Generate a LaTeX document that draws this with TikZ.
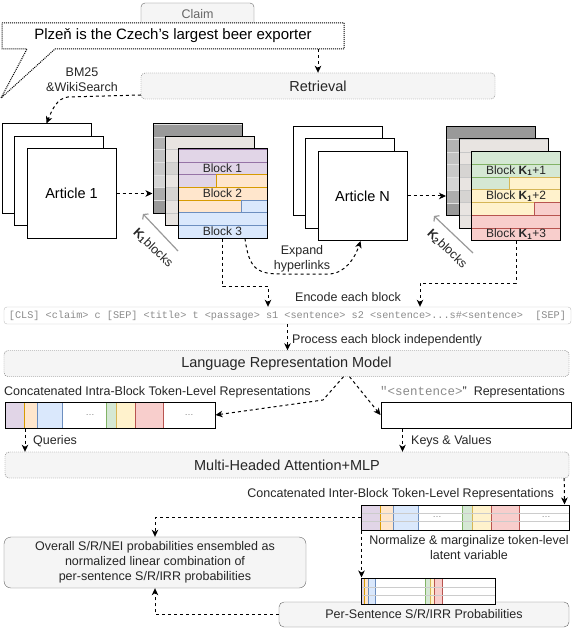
\documentclass[tikz,border=0pt]{standalone}
\usepackage{fontspec}
\setmainfont{Liberation Sans}
\setmonofont{Liberation Mono}
\usetikzlibrary{arrows.meta,positioning,calc}

\definecolor{purF}{HTML}{E1D5E7}\definecolor{purD}{HTML}{9673A6}
\definecolor{oraF}{HTML}{FFE6CC}\definecolor{oraD}{HTML}{D79B00}
\definecolor{bluF}{HTML}{DAE8FC}\definecolor{bluD}{HTML}{6C8EBF}
\definecolor{greF}{HTML}{D5E8D4}\definecolor{greD}{HTML}{82B366}
\definecolor{yelF}{HTML}{FFF2CC}\definecolor{yelD}{HTML}{D6B656}
\definecolor{redF}{HTML}{F8CECC}\definecolor{redD}{HTML}{B85450}
\definecolor{boxF}{HTML}{F5F5F5}\definecolor{boxD}{HTML}{666666}
\definecolor{midF}{HTML}{E8E4E1}\definecolor{midG}{HTML}{D6D4D2}
\definecolor{txt}{HTML}{262626}
\definecolor{tokgray}{HTML}{8A8A8A}

\newcommand{\rh}{12.714}

% coloured rows of a front block square (top left corner #1,#2)
\newcommand{\blockrows}[5]{%
  \draw[fill=#3F,draw=#3D] (#1,#2) rectangle (#1+89,#2+\rh);
  \draw[fill=#3F,draw=#3D] (#1,#2+\rh) rectangle (#1+89,#2+2*\rh);
  \draw[fill=#3F,draw=#3D] (#1,#2+2*\rh) rectangle (#1+38,#2+3*\rh);
  \draw[fill=#4F,draw=#4D] (#1+38,#2+2*\rh) rectangle (#1+89,#2+3*\rh);
  \draw[fill=#4F,draw=#4D] (#1,#2+3*\rh) rectangle (#1+89,#2+4*\rh);
  \draw[fill=#4F,draw=#4D] (#1,#2+4*\rh) rectangle (#1+63,#2+5*\rh);
  \draw[fill=#5F,draw=#5D] (#1+63,#2+4*\rh) rectangle (#1+89,#2+5*\rh);
  \draw[fill=#5F,draw=#5D] (#1,#2+5*\rh) rectangle (#1+89,#2+6*\rh);
  \draw[fill=#5F,draw=#5D] (#1,#2+6*\rh) rectangle (#1+89,#2+7*\rh);}
% grey rows of the squares behind
\newcommand{\backrows}[2]{%
  \foreach \i/\gv in {0/40,1/30,2/24,3/21,4/17,5/32,6/40}
    \draw[fill=black!\gv,draw=black!12] (#1,#2+\i*\rh) rectangle (#1+89,#2+\i*\rh+\rh);}
\newcommand{\midrows}[2]{%
  \foreach \i/\gv in {0/midF,1/midF,2/midG,3/midF,4/midG,5/midF,6/midF}
    \draw[fill=\gv,draw=black!22] (#1,#2+\i*\rh) rectangle (#1+89,#2+\i*\rh+\rh);}
% coloured token segments of a representation bar
\newcommand{\segbar}[3]{%
  \foreach \a/\b/\cc in {0/19.5/pur,19.5/32/ora,32/57.5/blu,101.5/111.5/gre,111.5/130.5/yel,130.5/158.5/red}
    \draw[fill=\cc F,draw=\cc D] (#1+\a,#2) rectangle (#1+\b,#3);}

\begin{document}
\begin{tikzpicture}[x=1pt,y=-1pt,
    sq/.style={draw,line width=1pt,minimum size=89pt,inner sep=0pt,font=\fontsize{14.5}{17}\selectfont},
    panel/.style={draw=boxD,fill=boxF,dash pattern=on 1pt off 1pt,rounded corners=4pt,minimum height=26pt,inner sep=0pt,text=txt,font=\fontsize{14.5}{17}\selectfont},
    note/.style={draw=boxD,fill=boxF,rounded corners=7pt,inner sep=0pt,text=txt,font=\fontsize{12.5}{15}\selectfont,align=center},
    lbl/.style={inner sep=0pt,font=\fontsize{12.5}{15}\selectfont,text=txt},
    blk/.style={inner sep=0pt,font=\fontsize{12}{14}\selectfont,text=txt},
    rep/.style={draw,line width=1pt,inner sep=0pt,minimum height=26pt},
    dots/.style={inner sep=0pt,text=black!50,font=\small},
    flow/.style={line width=1pt,dash pattern=on 3pt off 3pt,-{Stealth[length=7pt,width=6.5pt,inset=2pt]}},
    kline/.style={draw=black!40,line width=1.2pt,-{Straight Barb[length=3pt,width=8pt]}}]
    \useasboundingbox (0,0) rectangle (572,628);

    % claim and retrieval
    \node[draw=boxD,fill=boxF,rounded corners=4pt,minimum width=113pt,minimum height=27pt,inner sep=0pt] (ClaimTab) at (197.5,16.5) {};
    \node[lbl,text=boxD] (clm) at (197.5,14) {Claim};
    \draw[fill=white,line width=1pt,dash pattern=on 1pt off 1pt] (2,23) -- (344,23) -- (344,49) -- (55,49) -- (1,98) -- (27,49) -- (2,49) -- cycle;
    \node[font=\fontsize{15}{18}\selectfont,minimum width=342pt,minimum height=26pt,inner sep=0pt] (Claim) at (173,36) {Plzeň is the Czech's largest beer exporter};
    \node[panel,minimum width=354pt] (Ret) at (318,86) {Retrieval};
    \draw[flow] (Claim.south -| Ret.north) -- (Ret.north);
    \node[lbl,align=center] (bm) at (82,80) {BM25\\\&WikiSearch};

    % articles
    \node[sq,fill=white] (A1b) at (46.5,168.5) {};
    \node[sq,fill=white] (A1m) at (59,181) {};
    \node[sq,fill=white] (A1f) at (71.5,193.5) {Article 1};
    \node[sq,fill=white] (ANb) at (337.5,171) {};
    \node[sq,fill=white] (ANm) at (350,183.5) {};
    \node[sq,fill=white] (ANf) at (362.5,196) {Article N};
    \draw[flow] ([yshift=-9pt]Ret.west) -- (68,97) .. controls (57,98) and (52,110) .. (A1b.north);

    % blocks of article 1
    \backrows{153}{124}
    \node[sq] (B1b) at (197.5,168.5) {};
    \midrows{165.5}{136.5}
    \node[sq] (B1m) at (210,181) {};
    \blockrows{178}{149}{pur}{ora}{blu}
    \node[sq] (B1f) at (222.5,193.5) {};
    \node[blk] (b1) at (222.5,168.1) {Block 1};
    \node[blk] (b2) at (222.5,193.5) {Block 2};
    \node[blk] (b3) at (222.5,231.6) {Block 3};

    % blocks of article N
    \backrows{446.5}{126.5}
    \node[sq] (B2b) at (491,171) {};
    \midrows{459}{139}
    \node[sq] (B2m) at (503.5,183.5) {};
    \blockrows{471.5}{151.5}{gre}{yel}{red}
    \node[sq] (B2f) at (516,196) {};
    \node[blk] (bk1) at (516,170.6) {Block \textbf{K\textsubscript{1}}+1};
    \node[blk] (bk2) at (516,196) {Block \textbf{K\textsubscript{1}}+2};
    \node[blk] (bk3) at (516,234.1) {Block \textbf{K\textsubscript{1}}+3};

    \draw[flow] (A1f.east) -- (A1f.east -| B1b.west);
    \draw[flow] (ANf.east) -- (ANf.east -| B2b.west);
    \coordinate (k1a) at (178,251); \coordinate (k1b) at (143,214);
    \draw[kline] (k1a) -- (k1b);
    \node[lbl,rotate=-44] (k1) at (153,248) {\textbf{K\textsubscript{1}}blocks};
    \coordinate (k2a) at (473,253); \coordinate (k2b) at (434,216);
    \draw[kline] (k2a) -- (k2b);
    \node[lbl,rotate=-44] (k2) at (447,249) {\textbf{K\textsubscript{2}}blocks};

    \draw[flow] ([xshift=22.5pt]B1f.south) .. controls (249,270) and (258,274) .. (282,274) -- (328,274) .. controls (345,274) and (355,258) .. ([xshift=-2pt]ANf.south);
    \node[lbl,align=center] (exp) at (302,259) {Expand\\hyperlinks};

    % encoding
    \node[lbl] (enc) at (348,297) {Encode each block};
    \node[draw=black!25,rounded corners=3pt,minimum width=567pt,minimum height=17pt,inner sep=0pt,text=tokgray,font=\ttfamily\fontsize{10.2}{12}\selectfont] (Tok) at (287.5,315.5) {[CLS] <claim> c [SEP] <title> t <passage> s1 <sentence> s2 <sentence>...s\#<sentence>\ \ [SEP]};
    \draw[flow] (B1f.south) -- ++(0,48) -| ([xshift=-19.5pt]Tok.north);
    \draw[flow] (B2f.south) -- ++(0,42) -| ([xshift=132.5pt]Tok.north);

    \node[panel,minimum width=565pt] (LRM) at (286.5,363.5) {Language Representation Model};
    \draw[flow] (Tok.south) -- (Tok.south |- LRM.north);
    \node[lbl,anchor=west] (proc) at (292,340) {Process each block independently};

    % representations
    \segbar{5}{402}{428}
    \node[rep,minimum width=210pt] (Intra) at (110,415) {};
    \node[dots] (d1) at (90,415) {\dots};
    \node[dots] (d2) at (189,415) {\dots};
    \node[lbl,anchor=west] (intraT) at (4,392) {Concatenated Intra-Block Token-Level Representations};
    \node[rep,fill=white,minimum width=190pt] (Sent) at (476,415) {};
    \node[lbl,anchor=east] (sentT) at (565,392) {{\ttfamily\color{tokgray}"<sentence>}"\ \ Representations};
    \draw[flow] ([xshift=57pt]LRM.south) -- (323,400) -- (Intra.east);
    \draw[flow] ([xshift=63pt]LRM.south) -- (Sent.west);

    \node[panel,minimum width=564pt] (MHA) at (287,465) {Multi-Headed Attention+MLP};
    \draw[flow] ([xshift=20.5pt]Intra.south west) -- ([xshift=20.5pt]Intra.south west |- MHA.north);
    \node[lbl,anchor=west] (qu) at (33,441) {Queries};
    \draw[flow] ([xshift=22pt]Sent.south west) -- ([xshift=22pt]Sent.south west |- MHA.north);
    \node[lbl,anchor=west] (kv) at (411,441) {Keys \& Values};

    \segbar{361}{505}{530}
    \draw[black!20] (361,513.5) -- (569,513.5) (361,521.5) -- (569,521.5);
    \node[rep,minimum width=208pt,minimum height=25pt] (Inter) at (465,517.5) {};
    \node[dots] (d3) at (437,517.5) {\dots};
    \node[dots] (d4) at (546,517.5) {\dots};
    \node[lbl,anchor=east] (interT) at (554,494) {Concatenated Inter-Block Token-Level Representations};
    \draw[flow] ([xshift=-5pt]MHA.south east) -- ([xshift=-5pt]Inter.north east);
    \node[lbl,align=center] (norm) at (469,548) {Normalize \& marginalize token-level\\latent variable};

    % probabilities
    \node[note,minimum width=302pt,minimum height=51pt] (Overall) at (155,562.5) {Overall S/R/NEI probabilities ensembled as\\normalized linear combination of\\per-sentence S/R/IRR probabilities};
    \node[note,rounded corners=5pt,minimum width=290pt,minimum height=25pt] (PerBox) at (424,614.5) {Per-Sentence S/R/IRR Probabilities};
    \fill[white] (361,578) rectangle (495,604);
    \foreach \a/\b/\cc in {0/3/pur,3/7/ora,7/14/blu,64/69/gre,69/73/yel,73/81/red}
        \draw[fill=\cc F,draw=\cc D] (361+\a,578) rectangle (361+\b,604);
    \draw[black!20] (361,587) -- (495,587) (361,595) -- (495,595);
    \node[rep,minimum width=134pt] (PerBar) at (428,591) {};
    \draw[flow] (Inter.west) -| (Overall.north);
    \draw[flow] ([xshift=1pt]Inter.south west) -- ([xshift=1pt]PerBar.north west);
    \draw[flow] (PerBox.west) -| (Overall.south);
\end{tikzpicture}
\end{document}
